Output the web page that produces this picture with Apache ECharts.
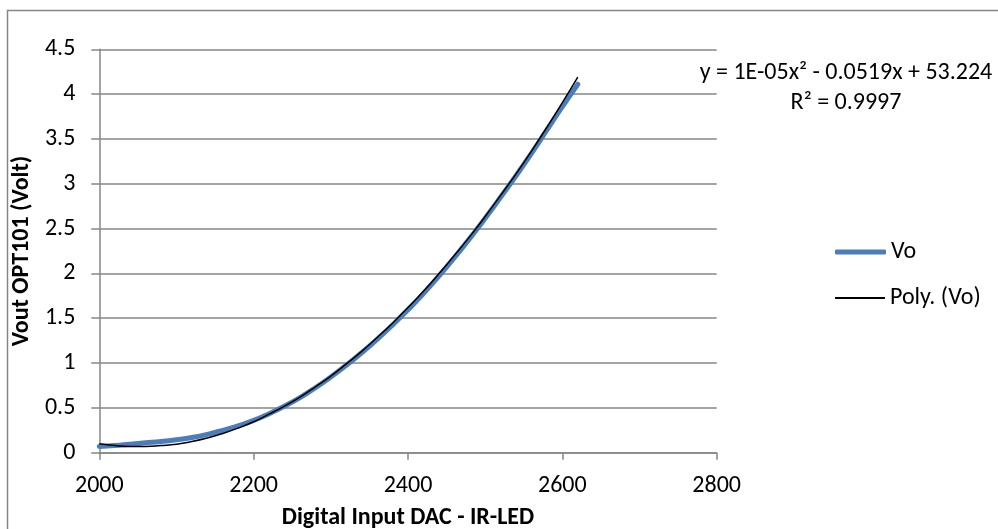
<!DOCTYPE html>
<html>
<head>
<meta charset="utf-8">
<script src="https://cdn.jsdelivr.net/npm/echarts@6/dist/echarts.min.js"></script>
<style>
html,body{margin:0;padding:0;background:#fff;overflow:hidden;}
#chart{width:998px;height:529px;}
</style>
</head>
<body>
<div id="chart"></div>
<script>
// DAC input values (x)
const dacValues = [2000,2020,2040,2060,2080,2100,2120,2140,2160,2180,2200,2220,2240,2260,2280,2300,
                   2320,2340,2360,2380,2400,2420,2440,2460,2480,2500,2520,2540,2560,2580,2600,2620];
// Measured Vo (Volt)
const voValues = [0.07,0.08,0.095,0.11,0.125,0.145,0.17,0.205,0.25,0.30,0.36,0.435,0.52,0.615,0.725,0.845,
                  0.975,1.115,1.265,1.425,1.595,1.775,1.97,2.175,2.39,2.615,2.85,3.09,3.34,3.60,3.86,4.11];
// Polynomial trendline (as drawn)
const polyValues = [0.10,0.08,0.07,0.07,0.08,0.095,0.125,0.165,0.215,0.275,0.345,0.43,0.52,0.62,0.735,0.855,
                    0.99,1.13,1.285,1.445,1.62,1.80,1.995,2.20,2.41,2.635,2.87,3.11,3.365,3.63,3.905,4.19];
const xTicks = [2000,2200,2400,2600,2800];
const yTicks = [0,0.5,1,1.5,2,2.5,3,3.5,4,4.5];
const seriesNames = ['Vo','Poly. (Vo)'];
const equationLines = ['y = 1E-05x\u00B2 - 0.0519x + 53.224','R\u00B2 = 0.9997'];
const xTitle = 'Digital Input DAC - IR-LED';
const yTitle = 'Vout OPT101 (Volt)';

const FONT = 'Carlito, Lato, sans-serif';
const chart = echarts.init(document.getElementById('chart'));
const gray = '#868686';

chart.setOption({
  animation: false,
  backgroundColor: '#fff',
  textStyle: {fontFamily: FONT},
  grid: {left: 99.3, right: 998 - 716.7, top: 49.3, bottom: 529 - 452.7, containLabel: false, outerBoundsMode: 'none'},
  graphic: [
    {type: 'rect', shape: {x: 7.5, y: 10.5, width: 1100, height: 700}, style: {fill: 'none', stroke: gray, lineWidth: 1.5}, silent: true, z: -10},
    {type: 'text', x: 846, y: 73, style: {text: equationLines[0], fontFamily: FONT, fontSize: 24, fill: '#000', align: 'center', verticalAlign: 'middle'}, z: 10},
    {type: 'text', x: 846, y: 103, style: {text: equationLines[1], fontFamily: FONT, fontSize: 24, fill: '#000', align: 'center', verticalAlign: 'middle'}, z: 10}
  ],
  legend: [
    {
      left: 830, top: 235,
      itemWidth: 51, itemHeight: 5, icon: 'roundRect',
      textStyle: {fontFamily: FONT, fontSize: 24, color: '#000'},
      data: [seriesNames[0]]
    },
    {
      left: 830, top: 281,
      itemWidth: 50, itemHeight: 2, icon: 'rect',
      textStyle: {fontFamily: FONT, fontSize: 24, color: '#000'},
      data: [seriesNames[1]]
    }
  ],
  xAxis: {
    type: 'value', min: xTicks[0], max: xTicks[xTicks.length-1], interval: 200,
    name: xTitle, nameLocation: 'middle', nameGap: 53,
    nameTextStyle: {fontFamily: FONT, fontSize: 24, fontWeight: 'bold', color: '#000'},
    axisLine: {show: true, lineStyle: {color: gray, width: 1.5}},
    axisTick: {show: true, length: 7, lineStyle: {color: gray, width: 1.5}},
    axisLabel: {fontFamily: FONT, fontSize: 24, color: '#000', margin: 21, formatter: v => String(v)},
    splitLine: {show: false}
  },
  yAxis: {
    type: 'value', min: yTicks[0], max: yTicks[yTicks.length-1], interval: 0.5,
    name: yTitle, nameLocation: 'middle', nameGap: 56, nameRotate: 90,
    nameTextStyle: {fontFamily: FONT, fontSize: 24, fontWeight: 'bold', color: '#000'},
    axisLine: {show: true, lineStyle: {color: gray, width: 1.5}},
    axisTick: {show: true, length: 8, lineStyle: {color: gray, width: 1.5}},
    axisLabel: {fontFamily: FONT, fontSize: 24, color: '#000', margin: 24, formatter: v => String(v)},
    splitLine: {show: true, lineStyle: {color: gray, width: 1.5}}
  },
  series: [
    {
      name: seriesNames[0], type: 'line', smooth: true, showSymbol: false, symbol: 'none',
      data: dacValues.map((x, i) => [x, voValues[i]]),
      lineStyle: {color: '#4A7EBB', width: 5, cap: 'round'},
      itemStyle: {color: '#4A7EBB'}, z: 2
    },
    {
      name: seriesNames[1], type: 'line', smooth: true, showSymbol: false, symbol: 'none',
      data: dacValues.map((x, i) => [x, polyValues[i]]),
      lineStyle: {color: '#000', width: 1.5},
      itemStyle: {color: '#000'}, z: 3
    }
  ]
});
</script>
</body>
</html>
